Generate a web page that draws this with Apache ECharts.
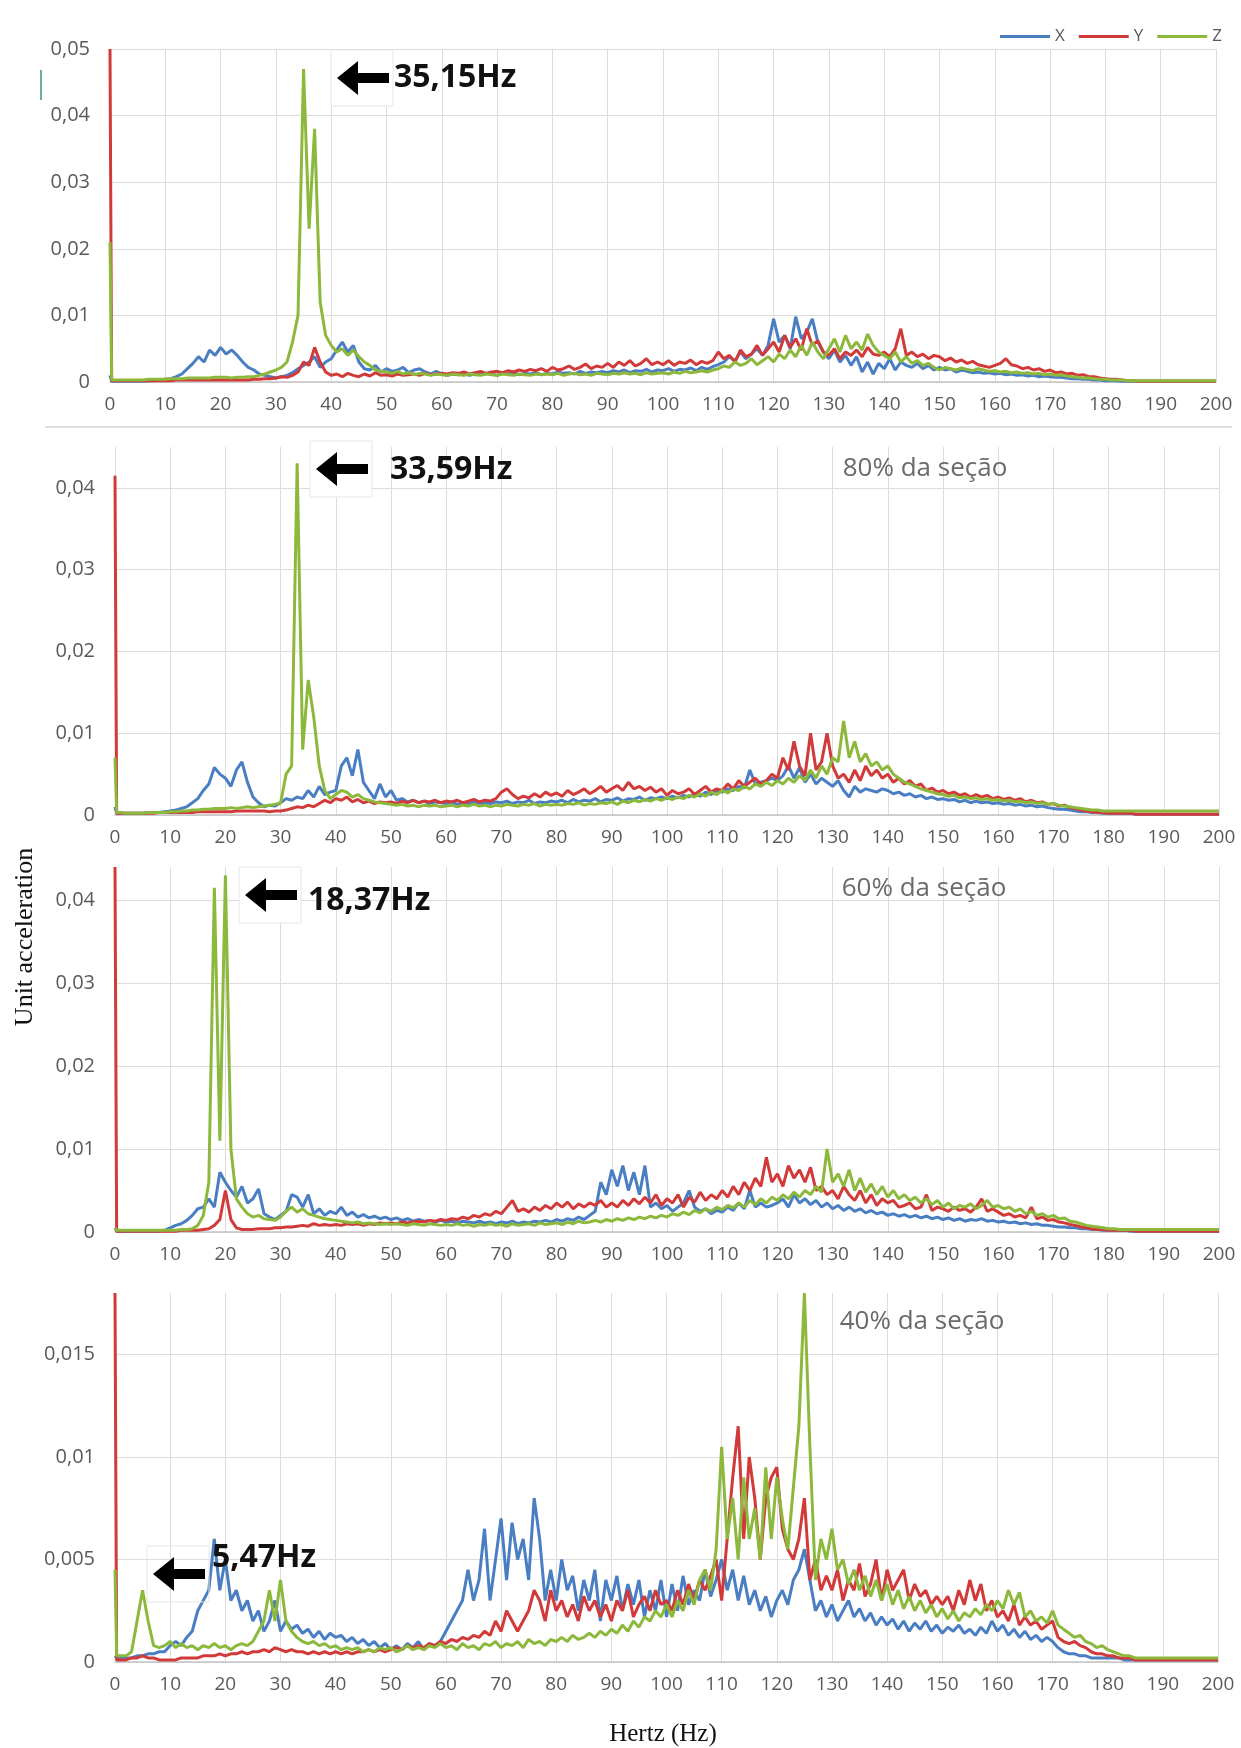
<!DOCTYPE html>
<html>
<head>
<meta charset="utf-8">
<script src="https://cdn.jsdelivr.net/npm/echarts@6/dist/echarts.min.js"></script>
<style>
html,body{margin:0;padding:0;background:#fff;}
#chart{width:1241px;height:1748px;}
</style>
</head>
<body>
<div id="chart"></div>
<script>
// Frequency axis (Hz)
const freq = [
0,0.3,1,2,3,4,5,6,7,8,9,
10,11,12,13,14,15,16,17,18,19,
20,21,22,23,24,25,26,27,28,29,
30,31,32,33,34,35,36,37,38,39,
40,41,42,43,44,45,46,47,48,49,
50,51,52,53,54,55,56,57,58,59,
60,61,62,63,64,65,66,67,68,69,
70,71,72,73,74,75,76,77,78,79,
80,81,82,83,84,85,86,87,88,89,
90,91,92,93,94,95,96,97,98,99,
100,101,102,103,104,105,106,107,108,109,
110,111,112,113,114,115,116,117,118,119,
120,121,122,123,124,125,126,127,128,129,
130,131,132,133,134,135,136,137,138,139,
140,141,142,143,144,145,146,147,148,149,
150,151,152,153,154,155,156,157,158,159,
160,161,162,163,164,165,166,167,168,169,
170,171,172,173,174,175,176,177,178,179,
180,181,182,183,184,185,186,187,188,189,
190,191,192,193,194,195,196,197,198,199,
200];

const seriesNames = ['X','Y','Z'];
const xTicks = [0,10,20,30,40,50,60,70,80,90,100,110,120,130,140,150,160,170,180,190,200];
const panelLabels = ['', '80% da seção', '60% da seção', '40% da seção'];
const peakLabels = ['35,15Hz', '33,59Hz', '18,37Hz', '5,47Hz'];

// ---------- Panel 1 ----------
const p1X = [
0.0010,0.0001,0.0001,0.0001,0.0001,0.0001,0.0001,0.0001,0.0002,0.0002,0.0003,
0.0004,0.0005,0.0008,0.0012,0.0020,0.0028,0.0038,0.0030,0.0048,0.0040,
0.0052,0.0042,0.0048,0.0040,0.0030,0.0022,0.0018,0.0012,0.0010,0.0008,
0.0006,0.0008,0.0010,0.0014,0.0020,0.0025,0.0030,0.0038,0.0022,0.0030,
0.0035,0.0048,0.0060,0.0045,0.0055,0.0030,0.0020,0.0018,0.0025,0.0015,
0.0020,0.0016,0.0018,0.0022,0.0014,0.0018,0.0020,0.0015,0.0012,0.0016,
0.0012,0.0010,0.0012,0.0011,0.0013,0.0010,0.0012,0.0011,0.0013,0.0012,
0.0010,0.0013,0.0012,0.0014,0.0011,0.0013,0.0012,0.0014,0.0011,0.0013,
0.0012,0.0015,0.0013,0.0014,0.0012,0.0016,0.0013,0.0015,0.0014,0.0016,
0.0014,0.0017,0.0015,0.0018,0.0014,0.0017,0.0016,0.0019,0.0015,0.0018,
0.0017,0.0020,0.0016,0.0019,0.0018,0.0021,0.0017,0.0022,0.0019,0.0023,
0.0026,0.0030,0.0038,0.0032,0.0045,0.0035,0.0042,0.0050,0.0040,0.0055,
0.0095,0.0060,0.0070,0.0050,0.0098,0.0065,0.0075,0.0095,0.0060,0.0045,
0.0035,0.0048,0.0030,0.0040,0.0025,0.0038,0.0015,0.0030,0.0012,0.0028,
0.0020,0.0035,0.0018,0.0030,0.0025,0.0022,0.0028,0.0020,0.0025,0.0018,
0.0022,0.0018,0.0020,0.0015,0.0018,0.0016,0.0014,0.0015,0.0013,0.0014,
0.0012,0.0013,0.0011,0.0012,0.0010,0.0011,0.0009,0.0010,0.0008,0.0009,
0.0008,0.0007,0.0007,0.0006,0.0005,0.0005,0.0004,0.0004,0.0003,0.0003,
0.0002,0.0002,0.0002,0.0001,0.0001,0.0001,0.0001,0.0001,0.0001,0.0001,
0.0001,0.0001,0.0001,0.0001,0.0001,0.0001,0.0001,0.0001,0.0001,0.0001,
0.0001];
const p1Y = [
0.0500,0.0002,0.0002,0.0002,0.0002,0.0002,0.0002,0.0002,0.0002,0.0002,0.0002,
0.0002,0.0002,0.0003,0.0003,0.0003,0.0003,0.0003,0.0003,0.0003,0.0003,
0.0003,0.0003,0.0003,0.0003,0.0003,0.0003,0.0004,0.0004,0.0005,0.0005,
0.0006,0.0008,0.0007,0.0010,0.0015,0.0030,0.0025,0.0052,0.0030,0.0015,
0.0010,0.0012,0.0008,0.0013,0.0010,0.0008,0.0012,0.0009,0.0014,0.0010,
0.0011,0.0009,0.0012,0.0010,0.0011,0.0012,0.0010,0.0013,0.0011,0.0012,
0.0013,0.0012,0.0014,0.0013,0.0015,0.0012,0.0014,0.0016,0.0013,0.0015,
0.0016,0.0014,0.0017,0.0015,0.0018,0.0016,0.0019,0.0017,0.0020,0.0016,
0.0022,0.0018,0.0020,0.0024,0.0019,0.0022,0.0027,0.0020,0.0024,0.0022,
0.0028,0.0022,0.0030,0.0025,0.0032,0.0024,0.0028,0.0035,0.0026,0.0030,
0.0026,0.0032,0.0025,0.0030,0.0028,0.0033,0.0026,0.0031,0.0028,0.0032,
0.0045,0.0035,0.0040,0.0030,0.0048,0.0038,0.0042,0.0055,0.0040,0.0050,
0.0060,0.0045,0.0070,0.0052,0.0065,0.0048,0.0080,0.0055,0.0062,0.0045,
0.0040,0.0050,0.0035,0.0045,0.0040,0.0048,0.0038,0.0052,0.0042,0.0040,
0.0045,0.0038,0.0050,0.0080,0.0040,0.0045,0.0038,0.0042,0.0035,0.0040,
0.0038,0.0032,0.0036,0.0030,0.0033,0.0028,0.0031,0.0026,0.0024,0.0022,
0.0025,0.0028,0.0035,0.0026,0.0024,0.0020,0.0022,0.0018,0.0020,0.0016,
0.0018,0.0014,0.0015,0.0012,0.0013,0.0010,0.0011,0.0008,0.0008,0.0006,
0.0005,0.0004,0.0004,0.0003,0.0002,0.0002,0.0001,0.0001,0.0001,0.0001,
0.0001,0.0001,0.0001,0.0001,0.0001,0.0001,0.0001,0.0001,0.0001,0.0001,
0.0001];
const p1Z = [
0.0210,0.0003,0.0003,0.0003,0.0003,0.0003,0.0003,0.0003,0.0004,0.0004,0.0004,
0.0004,0.0005,0.0005,0.0005,0.0006,0.0006,0.0006,0.0006,0.0006,0.0007,
0.0007,0.0007,0.0006,0.0007,0.0007,0.0008,0.0008,0.0010,0.0012,0.0015,
0.0018,0.0022,0.0030,0.0060,0.0100,0.0470,0.0230,0.0380,0.0120,0.0070,
0.0055,0.0045,0.0050,0.0040,0.0048,0.0038,0.0030,0.0025,0.0018,0.0016,
0.0015,0.0013,0.0016,0.0012,0.0014,0.0011,0.0013,0.0012,0.0010,0.0012,
0.0011,0.0010,0.0012,0.0011,0.0010,0.0012,0.0011,0.0010,0.0012,0.0011,
0.0010,0.0012,0.0011,0.0010,0.0012,0.0011,0.0010,0.0012,0.0011,0.0012,
0.0011,0.0013,0.0010,0.0012,0.0013,0.0011,0.0012,0.0010,0.0013,0.0012,
0.0011,0.0013,0.0012,0.0014,0.0012,0.0013,0.0011,0.0014,0.0012,0.0013,
0.0014,0.0012,0.0015,0.0013,0.0016,0.0014,0.0015,0.0017,0.0015,0.0018,
0.0020,0.0024,0.0022,0.0030,0.0025,0.0028,0.0035,0.0026,0.0032,0.0038,
0.0030,0.0042,0.0035,0.0048,0.0038,0.0055,0.0040,0.0060,0.0045,0.0035,
0.0050,0.0065,0.0045,0.0070,0.0050,0.0060,0.0048,0.0072,0.0055,0.0045,
0.0040,0.0035,0.0045,0.0030,0.0038,0.0028,0.0032,0.0025,0.0028,0.0022,
0.0018,0.0022,0.0020,0.0018,0.0021,0.0019,0.0017,0.0020,0.0018,0.0016,
0.0017,0.0015,0.0016,0.0014,0.0015,0.0013,0.0014,0.0012,0.0013,0.0011,
0.0012,0.0010,0.0011,0.0009,0.0008,0.0007,0.0006,0.0006,0.0005,0.0004,
0.0004,0.0003,0.0003,0.0003,0.0002,0.0002,0.0002,0.0002,0.0002,0.0002,
0.0002,0.0002,0.0002,0.0002,0.0002,0.0002,0.0002,0.0002,0.0002,0.0002,
0.0002];

// ---------- Panel 2 (80% da seção) ----------
const p2X = [
0.0010,0.0002,0.0002,0.0002,0.0002,0.0002,0.0002,0.0003,0.0003,0.0003,0.0004,
0.0005,0.0006,0.0008,0.0010,0.0015,0.0020,0.0030,0.0038,0.0058,0.0050,
0.0045,0.0035,0.0055,0.0065,0.0040,0.0022,0.0015,0.0010,0.0012,0.0011,
0.0015,0.0020,0.0018,0.0022,0.0020,0.0030,0.0022,0.0035,0.0025,0.0028,
0.0030,0.0060,0.0070,0.0048,0.0080,0.0040,0.0030,0.0020,0.0038,0.0022,
0.0030,0.0018,0.0020,0.0016,0.0018,0.0015,0.0017,0.0014,0.0016,0.0015,
0.0014,0.0016,0.0013,0.0015,0.0014,0.0016,0.0013,0.0015,0.0014,0.0016,
0.0015,0.0017,0.0014,0.0016,0.0015,0.0018,0.0014,0.0016,0.0015,0.0017,
0.0016,0.0018,0.0015,0.0019,0.0016,0.0018,0.0017,0.0020,0.0016,0.0019,
0.0018,0.0021,0.0017,0.0020,0.0019,0.0022,0.0018,0.0021,0.0020,0.0022,
0.0020,0.0023,0.0021,0.0024,0.0022,0.0026,0.0023,0.0028,0.0025,0.0030,
0.0028,0.0032,0.0030,0.0035,0.0033,0.0055,0.0038,0.0040,0.0042,0.0045,
0.0042,0.0048,0.0060,0.0045,0.0058,0.0040,0.0050,0.0038,0.0045,0.0040,
0.0035,0.0042,0.0030,0.0022,0.0035,0.0028,0.0032,0.0030,0.0028,0.0032,
0.0030,0.0026,0.0028,0.0024,0.0026,0.0022,0.0024,0.0020,0.0022,0.0019,
0.0020,0.0018,0.0019,0.0016,0.0018,0.0015,0.0017,0.0015,0.0016,0.0014,
0.0015,0.0013,0.0014,0.0012,0.0013,0.0011,0.0012,0.0010,0.0011,0.0009,
0.0008,0.0007,0.0007,0.0006,0.0005,0.0004,0.0004,0.0003,0.0003,0.0002,
0.0002,0.0002,0.0002,0.0002,0.0002,0.0001,0.0001,0.0001,0.0001,0.0001,
0.0001,0.0001,0.0001,0.0001,0.0001,0.0001,0.0001,0.0001,0.0001,0.0001,
0.0001];
const p2Y = [
0.0415,0.0002,0.0002,0.0002,0.0002,0.0002,0.0002,0.0002,0.0002,0.0003,0.0003,
0.0003,0.0003,0.0003,0.0003,0.0003,0.0004,0.0004,0.0004,0.0004,0.0004,
0.0004,0.0004,0.0005,0.0005,0.0005,0.0005,0.0005,0.0005,0.0004,0.0005,
0.0005,0.0006,0.0008,0.0010,0.0009,0.0012,0.0010,0.0014,0.0018,0.0015,
0.0020,0.0018,0.0022,0.0016,0.0019,0.0015,0.0017,0.0014,0.0016,0.0015,
0.0016,0.0014,0.0017,0.0015,0.0018,0.0015,0.0017,0.0016,0.0018,0.0015,
0.0017,0.0016,0.0018,0.0015,0.0017,0.0019,0.0016,0.0018,0.0017,0.0020,
0.0028,0.0032,0.0025,0.0020,0.0023,0.0021,0.0026,0.0022,0.0028,0.0024,
0.0027,0.0023,0.0030,0.0025,0.0028,0.0032,0.0026,0.0030,0.0035,0.0028,
0.0032,0.0036,0.0030,0.0040,0.0032,0.0035,0.0030,0.0034,0.0028,0.0032,
0.0024,0.0030,0.0026,0.0028,0.0032,0.0025,0.0030,0.0035,0.0028,0.0032,
0.0030,0.0038,0.0032,0.0042,0.0035,0.0040,0.0045,0.0038,0.0042,0.0050,
0.0045,0.0070,0.0055,0.0090,0.0060,0.0048,0.0100,0.0055,0.0065,0.0100,
0.0060,0.0045,0.0050,0.0040,0.0055,0.0042,0.0060,0.0048,0.0055,0.0045,
0.0050,0.0040,0.0045,0.0038,0.0042,0.0035,0.0038,0.0030,0.0033,0.0028,
0.0030,0.0026,0.0028,0.0024,0.0026,0.0022,0.0025,0.0022,0.0024,0.0020,
0.0022,0.0019,0.0021,0.0018,0.0020,0.0016,0.0018,0.0015,0.0016,0.0013,
0.0014,0.0011,0.0012,0.0009,0.0008,0.0006,0.0005,0.0004,0.0003,0.0003,
0.0002,0.0002,0.0002,0.0002,0.0002,0.0001,0.0001,0.0001,0.0001,0.0001,
0.0001,0.0001,0.0001,0.0001,0.0001,0.0001,0.0001,0.0001,0.0001,0.0001,
0.0001];
const p2Z = [
0.0070,0.0003,0.0003,0.0002,0.0002,0.0002,0.0002,0.0003,0.0003,0.0003,0.0003,
0.0004,0.0004,0.0005,0.0005,0.0006,0.0006,0.0007,0.0007,0.0008,0.0008,
0.0008,0.0009,0.0008,0.0009,0.0010,0.0009,0.0010,0.0011,0.0012,0.0013,
0.0015,0.0050,0.0060,0.0430,0.0080,0.0165,0.0120,0.0060,0.0030,0.0020,
0.0025,0.0030,0.0028,0.0022,0.0025,0.0020,0.0018,0.0016,0.0015,0.0014,
0.0013,0.0012,0.0013,0.0011,0.0012,0.0010,0.0012,0.0011,0.0012,0.0010,
0.0011,0.0012,0.0010,0.0012,0.0011,0.0013,0.0011,0.0012,0.0010,0.0012,
0.0011,0.0013,0.0012,0.0011,0.0013,0.0012,0.0014,0.0011,0.0013,0.0012,
0.0013,0.0012,0.0014,0.0013,0.0015,0.0012,0.0014,0.0013,0.0015,0.0014,
0.0016,0.0013,0.0017,0.0015,0.0018,0.0016,0.0019,0.0017,0.0020,0.0018,
0.0021,0.0019,0.0022,0.0020,0.0024,0.0022,0.0026,0.0023,0.0028,0.0025,
0.0030,0.0027,0.0032,0.0030,0.0035,0.0032,0.0038,0.0035,0.0040,0.0036,
0.0042,0.0038,0.0045,0.0040,0.0048,0.0042,0.0055,0.0045,0.0060,0.0050,
0.0070,0.0065,0.0115,0.0070,0.0090,0.0065,0.0075,0.0060,0.0065,0.0055,
0.0060,0.0050,0.0045,0.0040,0.0038,0.0035,0.0032,0.0030,0.0028,0.0026,
0.0025,0.0023,0.0024,0.0021,0.0022,0.0020,0.0021,0.0019,0.0020,0.0018,
0.0019,0.0017,0.0018,0.0016,0.0017,0.0015,0.0016,0.0014,0.0015,0.0013,
0.0014,0.0012,0.0011,0.0010,0.0009,0.0008,0.0007,0.0006,0.0006,0.0005,
0.0005,0.0005,0.0005,0.0005,0.0005,0.0005,0.0005,0.0005,0.0005,0.0005,
0.0005,0.0005,0.0005,0.0005,0.0005,0.0005,0.0005,0.0005,0.0005,0.0005,
0.0005];

// ---------- Panel 3 (60% da seção) ----------
const p3X = [
0.0005,0.0001,0.0001,0.0001,0.0001,0.0001,0.0001,0.0001,0.0001,0.0001,0.0002,
0.0005,0.0008,0.0010,0.0014,0.0020,0.0028,0.0030,0.0040,0.0030,0.0072,
0.0060,0.0050,0.0042,0.0055,0.0035,0.0040,0.0052,0.0022,0.0018,0.0015,
0.0020,0.0025,0.0045,0.0042,0.0030,0.0045,0.0022,0.0028,0.0020,0.0025,
0.0022,0.0030,0.0020,0.0024,0.0018,0.0021,0.0017,0.0019,0.0016,0.0018,
0.0015,0.0017,0.0014,0.0016,0.0013,0.0015,0.0013,0.0014,0.0012,0.0014,
0.0012,0.0013,0.0011,0.0013,0.0012,0.0011,0.0013,0.0011,0.0012,0.0010,
0.0012,0.0011,0.0013,0.0010,0.0012,0.0011,0.0013,0.0012,0.0014,0.0012,
0.0015,0.0013,0.0016,0.0014,0.0018,0.0015,0.0020,0.0025,0.0060,0.0045,
0.0075,0.0055,0.0080,0.0050,0.0072,0.0045,0.0080,0.0030,0.0035,0.0028,
0.0032,0.0025,0.0030,0.0035,0.0050,0.0030,0.0025,0.0028,0.0022,0.0026,
0.0024,0.0030,0.0026,0.0035,0.0028,0.0050,0.0030,0.0035,0.0030,0.0032,
0.0035,0.0040,0.0030,0.0045,0.0035,0.0040,0.0033,0.0038,0.0030,0.0035,
0.0028,0.0032,0.0026,0.0030,0.0025,0.0028,0.0023,0.0026,0.0022,0.0024,
0.0020,0.0022,0.0019,0.0021,0.0018,0.0020,0.0017,0.0019,0.0016,0.0018,
0.0015,0.0017,0.0014,0.0016,0.0013,0.0015,0.0014,0.0016,0.0013,0.0014,
0.0012,0.0013,0.0011,0.0012,0.0010,0.0011,0.0009,0.0010,0.0008,0.0008,
0.0007,0.0006,0.0006,0.0005,0.0005,0.0004,0.0004,0.0003,0.0003,0.0002,
0.0002,0.0002,0.0002,0.0002,0.0001,0.0001,0.0001,0.0001,0.0001,0.0001,
0.0001,0.0001,0.0001,0.0001,0.0001,0.0001,0.0001,0.0001,0.0001,0.0001,
0.0001];
const p3Y = [
0.0440,0.0001,0.0001,0.0001,0.0001,0.0001,0.0001,0.0001,0.0001,0.0001,0.0001,
0.0001,0.0001,0.0002,0.0002,0.0002,0.0002,0.0003,0.0004,0.0008,0.0015,
0.0050,0.0015,0.0005,0.0003,0.0003,0.0003,0.0004,0.0004,0.0004,0.0005,
0.0005,0.0006,0.0006,0.0007,0.0008,0.0007,0.0010,0.0008,0.0009,0.0008,
0.0009,0.0008,0.0010,0.0009,0.0010,0.0008,0.0010,0.0009,0.0011,0.0010,
0.0011,0.0010,0.0012,0.0011,0.0012,0.0013,0.0012,0.0014,0.0013,0.0015,
0.0014,0.0016,0.0015,0.0018,0.0016,0.0020,0.0018,0.0022,0.0020,0.0025,
0.0022,0.0030,0.0038,0.0025,0.0028,0.0024,0.0030,0.0026,0.0032,0.0028,
0.0035,0.0030,0.0036,0.0028,0.0034,0.0030,0.0035,0.0032,0.0038,0.0030,
0.0035,0.0030,0.0038,0.0032,0.0040,0.0034,0.0042,0.0035,0.0045,0.0032,
0.0040,0.0035,0.0045,0.0030,0.0042,0.0036,0.0048,0.0038,0.0045,0.0040,
0.0050,0.0042,0.0055,0.0045,0.0060,0.0050,0.0065,0.0055,0.0090,0.0060,
0.0070,0.0055,0.0080,0.0065,0.0075,0.0060,0.0078,0.0050,0.0055,0.0045,
0.0050,0.0040,0.0055,0.0045,0.0038,0.0050,0.0035,0.0045,0.0032,0.0040,
0.0035,0.0038,0.0030,0.0032,0.0035,0.0028,0.0030,0.0045,0.0026,0.0030,
0.0028,0.0025,0.0030,0.0026,0.0028,0.0024,0.0030,0.0040,0.0025,0.0028,
0.0024,0.0020,0.0022,0.0018,0.0020,0.0017,0.0030,0.0016,0.0018,0.0014,
0.0015,0.0012,0.0011,0.0009,0.0008,0.0006,0.0005,0.0004,0.0003,0.0003,
0.0002,0.0002,0.0002,0.0002,0.0002,0.0001,0.0001,0.0001,0.0001,0.0001,
0.0001,0.0001,0.0001,0.0001,0.0001,0.0001,0.0001,0.0001,0.0001,0.0001,
0.0001];
const p3Z = [
0.0005,0.0002,0.0002,0.0002,0.0002,0.0002,0.0002,0.0002,0.0002,0.0002,0.0002,
0.0002,0.0002,0.0003,0.0003,0.0004,0.0008,0.0020,0.0060,0.0415,0.0110,
0.0430,0.0100,0.0040,0.0030,0.0022,0.0018,0.0020,0.0016,0.0015,0.0014,
0.0018,0.0025,0.0030,0.0024,0.0028,0.0022,0.0020,0.0018,0.0016,0.0015,
0.0014,0.0013,0.0012,0.0011,0.0012,0.0010,0.0011,0.0010,0.0009,0.0010,
0.0009,0.0010,0.0009,0.0008,0.0010,0.0009,0.0008,0.0010,0.0009,0.0008,
0.0009,0.0008,0.0010,0.0008,0.0009,0.0007,0.0009,0.0008,0.0010,0.0008,
0.0009,0.0007,0.0010,0.0008,0.0009,0.0010,0.0008,0.0011,0.0009,0.0010,
0.0011,0.0009,0.0012,0.0010,0.0013,0.0011,0.0012,0.0014,0.0012,0.0015,
0.0013,0.0016,0.0014,0.0017,0.0015,0.0018,0.0016,0.0019,0.0017,0.0020,
0.0018,0.0022,0.0020,0.0024,0.0021,0.0026,0.0023,0.0028,0.0025,0.0030,
0.0027,0.0032,0.0029,0.0035,0.0030,0.0038,0.0033,0.0040,0.0035,0.0042,
0.0038,0.0045,0.0040,0.0048,0.0042,0.0050,0.0045,0.0055,0.0048,0.0100,
0.0060,0.0070,0.0055,0.0075,0.0050,0.0065,0.0048,0.0058,0.0045,0.0055,
0.0042,0.0050,0.0040,0.0045,0.0038,0.0042,0.0035,0.0040,0.0033,0.0038,
0.0030,0.0035,0.0028,0.0032,0.0030,0.0034,0.0028,0.0032,0.0038,0.0030,
0.0032,0.0028,0.0030,0.0025,0.0028,0.0022,0.0025,0.0020,0.0022,0.0018,
0.0020,0.0016,0.0017,0.0013,0.0012,0.0010,0.0008,0.0007,0.0006,0.0005,
0.0004,0.0004,0.0003,0.0003,0.0003,0.0003,0.0003,0.0003,0.0003,0.0003,
0.0003,0.0003,0.0003,0.0003,0.0003,0.0003,0.0003,0.0003,0.0003,0.0003,
0.0003];

// ---------- Panel 4 (40% da seção) ----------
const p4X = [
0.0003,0.0002,0.0002,0.0002,0.0002,0.0003,0.0003,0.0004,0.0004,0.0005,0.0005,
0.0008,0.0010,0.0008,0.0012,0.0015,0.0025,0.0030,0.0035,0.0060,0.0035,
0.0050,0.0030,0.0035,0.0025,0.0030,0.0020,0.0025,0.0015,0.0020,0.0030,
0.0015,0.0020,0.0016,0.0018,0.0014,0.0016,0.0012,0.0015,0.0011,0.0014,
0.0012,0.0013,0.0010,0.0012,0.0009,0.0011,0.0008,0.0010,0.0007,0.0009,
0.0006,0.0008,0.0006,0.0009,0.0007,0.0010,0.0006,0.0009,0.0008,0.0010,
0.0015,0.0020,0.0025,0.0030,0.0045,0.0030,0.0040,0.0065,0.0030,0.0050,
0.0070,0.0040,0.0068,0.0050,0.0060,0.0040,0.0080,0.0060,0.0030,0.0045,
0.0030,0.0050,0.0035,0.0042,0.0025,0.0040,0.0030,0.0045,0.0020,0.0040,
0.0030,0.0042,0.0025,0.0038,0.0028,0.0040,0.0022,0.0035,0.0025,0.0040,
0.0022,0.0038,0.0025,0.0042,0.0028,0.0035,0.0030,0.0045,0.0032,0.0040,
0.0050,0.0035,0.0045,0.0030,0.0042,0.0028,0.0035,0.0025,0.0032,0.0022,
0.0030,0.0035,0.0028,0.0040,0.0045,0.0055,0.0040,0.0025,0.0030,0.0022,
0.0028,0.0020,0.0025,0.0030,0.0022,0.0026,0.0020,0.0024,0.0018,0.0022,
0.0018,0.0021,0.0016,0.0020,0.0015,0.0019,0.0016,0.0020,0.0015,0.0018,
0.0014,0.0017,0.0015,0.0018,0.0014,0.0016,0.0013,0.0017,0.0014,0.0020,
0.0015,0.0018,0.0013,0.0016,0.0012,0.0015,0.0011,0.0013,0.0010,0.0012,
0.0010,0.0007,0.0005,0.0004,0.0004,0.0003,0.0003,0.0002,0.0002,0.0002,
0.0002,0.0002,0.0002,0.0001,0.0001,0.0001,0.0001,0.0001,0.0001,0.0001,
0.0001,0.0001,0.0001,0.0001,0.0001,0.0001,0.0001,0.0001,0.0001,0.0001,
0.0001];
const p4Y = [
0.0180,0.0001,0.0001,0.0001,0.0002,0.0002,0.0003,0.0002,0.0002,0.0001,0.0001,
0.0001,0.0001,0.0002,0.0002,0.0002,0.0002,0.0003,0.0003,0.0003,0.0004,
0.0003,0.0004,0.0004,0.0005,0.0004,0.0005,0.0005,0.0006,0.0005,0.0007,
0.0006,0.0005,0.0006,0.0005,0.0005,0.0004,0.0005,0.0004,0.0005,0.0004,
0.0005,0.0004,0.0005,0.0004,0.0005,0.0005,0.0006,0.0005,0.0006,0.0005,
0.0006,0.0007,0.0006,0.0008,0.0007,0.0008,0.0007,0.0009,0.0008,0.0010,
0.0009,0.0011,0.0010,0.0012,0.0011,0.0013,0.0012,0.0015,0.0013,0.0020,
0.0015,0.0025,0.0020,0.0015,0.0020,0.0025,0.0035,0.0030,0.0020,0.0035,
0.0025,0.0030,0.0022,0.0028,0.0020,0.0032,0.0025,0.0030,0.0022,0.0028,
0.0020,0.0030,0.0025,0.0035,0.0022,0.0028,0.0032,0.0025,0.0035,0.0028,
0.0030,0.0025,0.0035,0.0028,0.0038,0.0030,0.0040,0.0035,0.0042,0.0050,
0.0030,0.0060,0.0090,0.0115,0.0060,0.0100,0.0080,0.0050,0.0080,0.0090,
0.0095,0.0065,0.0055,0.0050,0.0060,0.0080,0.0040,0.0050,0.0035,0.0042,
0.0035,0.0045,0.0030,0.0040,0.0035,0.0048,0.0032,0.0038,0.0050,0.0030,
0.0045,0.0035,0.0040,0.0045,0.0030,0.0038,0.0032,0.0035,0.0028,0.0032,
0.0028,0.0032,0.0025,0.0035,0.0028,0.0040,0.0030,0.0038,0.0025,0.0030,
0.0022,0.0025,0.0020,0.0028,0.0018,0.0022,0.0018,0.0020,0.0016,0.0018,
0.0020,0.0012,0.0010,0.0009,0.0010,0.0008,0.0007,0.0005,0.0004,0.0004,
0.0003,0.0003,0.0002,0.0002,0.0002,0.0001,0.0001,0.0001,0.0001,0.0001,
0.0001,0.0001,0.0001,0.0001,0.0001,0.0001,0.0001,0.0001,0.0001,0.0001,
0.0001];
const p4Z = [
0.0045,0.0003,0.0003,0.0003,0.0005,0.0020,0.0035,0.0020,0.0008,0.0007,0.0008,
0.0010,0.0007,0.0009,0.0007,0.0008,0.0006,0.0008,0.0007,0.0009,0.0007,
0.0008,0.0006,0.0008,0.0009,0.0008,0.0010,0.0015,0.0020,0.0035,0.0020,
0.0040,0.0020,0.0015,0.0012,0.0010,0.0009,0.0010,0.0008,0.0009,0.0007,
0.0008,0.0006,0.0007,0.0006,0.0007,0.0005,0.0006,0.0005,0.0007,0.0006,
0.0007,0.0005,0.0006,0.0008,0.0006,0.0007,0.0006,0.0008,0.0007,0.0009,
0.0007,0.0008,0.0006,0.0009,0.0007,0.0008,0.0006,0.0009,0.0008,0.0010,
0.0007,0.0009,0.0008,0.0010,0.0007,0.0011,0.0009,0.0010,0.0008,0.0011,
0.0010,0.0012,0.0010,0.0013,0.0011,0.0012,0.0014,0.0012,0.0015,0.0013,
0.0016,0.0014,0.0018,0.0015,0.0020,0.0017,0.0022,0.0020,0.0025,0.0022,
0.0028,0.0022,0.0030,0.0025,0.0035,0.0028,0.0040,0.0045,0.0035,0.0055,
0.0105,0.0060,0.0080,0.0050,0.0090,0.0060,0.0075,0.0050,0.0095,0.0060,
0.0090,0.0070,0.0055,0.0085,0.0115,0.0180,0.0105,0.0040,0.0060,0.0050,
0.0065,0.0045,0.0050,0.0038,0.0045,0.0035,0.0042,0.0032,0.0040,0.0030,
0.0038,0.0028,0.0035,0.0026,0.0032,0.0025,0.0030,0.0024,0.0028,0.0022,
0.0026,0.0021,0.0025,0.0020,0.0024,0.0022,0.0026,0.0023,0.0028,0.0025,
0.0030,0.0026,0.0035,0.0028,0.0034,0.0022,0.0025,0.0020,0.0022,0.0019,
0.0025,0.0018,0.0016,0.0014,0.0012,0.0013,0.0010,0.0009,0.0007,0.0008,
0.0006,0.0005,0.0004,0.0003,0.0003,0.0002,0.0002,0.0002,0.0002,0.0002,
0.0002,0.0002,0.0002,0.0002,0.0002,0.0002,0.0002,0.0002,0.0002,0.0002,
0.0002];

// Y axis ranges per panel
const yMax = [0.05, 0.045, 0.044, 0.018];
const yStep = [0.01, 0.01, 0.01, 0.005];

const panels = [[p1X,p1Y,p1Z],[p2X,p2Y,p2Z],[p3X,p3Y,p3Z],[p4X,p4Y,p4Z]];
const colors = ['#4a7ec2', '#d23a3a', '#8cb83c'];

// Layout (pixels)
const grids = [
  {left:110, top:49,   width:1106, height:333},
  {left:115, top:447,  width:1104, height:368},
  {left:115, top:867,  width:1104, height:365},
  {left:115, top:1293, width:1103, height:369}
];

const fmtY = v => v === 0 ? '0' : String(parseFloat(v.toFixed(4))).replace('.', ',');

const xAxes = grids.map((g, i) => ({
  type:'value', gridIndex:i, min:0, max:200, interval:10,
  axisLine:{show:true, lineStyle:{color:'#c4c4c4', width:1.5}},
  axisTick:{show:false},
  axisLabel:{color:'#5a5a5a', fontSize:19, margin:13, fontFamily:'Open Sans'},
  splitLine:{show:true, lineStyle:{color:'#dcdcdc', width:1}}
}));
const yAxes = grids.map((g, i) => ({
  type:'value', gridIndex:i, min:0, max:yMax[i], interval:yStep[i],
  axisLine:{show:false}, axisTick:{show:false},
  axisLabel:{color:'#5a5a5a', fontSize:20, margin:20, fontFamily:'Open Sans',
    showMaxLabel: i === 0, formatter: fmtY},
  splitLine:{show:true, showMaxLine: i === 0, lineStyle:{color:'#dcdcdc', width:1}}
}));

const series = [];
panels.forEach((p, i) => {
  p.forEach((arr, k) => {
    series.push({
      name: seriesNames[k], type:'line', xAxisIndex:i, yAxisIndex:i,
      data: freq.map((f, j) => [f, arr[j]]),
      showSymbol:false, symbol:'none', sampling:null,
      lineStyle:{color:colors[k], width:3},
      itemStyle:{color:colors[k]},
      emphasis:{disabled:true}
    });
  });
});

// Annotation graphics
function arrow(x, y) {
  return {type:'polygon', z:120, shape:{points:[[x,y],[x+21,y-17],[x+21,y-5],[x+52,y-5],[x+52,y+5],[x+21,y+5],[x+21,y+17]]},
          style:{fill:'#000'}};
}
function box(x, y, filled) {
  return {type:'rect', z:110, shape:{x:x-6, y:y-28, width:62, height:56},
          style:{fill: filled ? '#fff' : 'none', stroke:'#e6e6e6', lineWidth:1}};
}
function peakText(x, y, t) {
  return {type:'text', z:120, style:{x:x, y:y, text:t, fill:'#111', font:'bold 32px "Open Sans"', textVerticalAlign:'middle'}};
}
function secText(cx, cy, t) {
  return {type:'text', z:120, style:{x:cx, y:cy, text:t, fill:'#6a6a6a', font:'26px "Open Sans"', textAlign:'center', textVerticalAlign:'middle'}};
}
const arrowPos = [[337,78],[316,469],[245,895],[153,1574]];
const textPos = [[394,78],[390,470],[308,901],[212,1558]];
const secPos = [null,[925,469],[924,889],[922,1322]];

const graphic = [];
arrowPos.forEach((a, i) => {
  graphic.push(box(a[0], a[1], i < 3));
  graphic.push(arrow(a[0], a[1]));
  graphic.push(peakText(textPos[i][0], textPos[i][1], peakLabels[i]));
  if (secPos[i]) graphic.push(secText(secPos[i][0], secPos[i][1], panelLabels[i]));
});
graphic.push({type:'line', z:100, shape:{x1:45, y1:427, x2:1232, y2:427}, style:{stroke:'#d4d4d4', lineWidth:1.5}});
graphic.push({type:'line', z:100, shape:{x1:41, y1:70, x2:41, y2:100}, style:{stroke:'#3f8f80', lineWidth:1.5}});
graphic.push({type:'text', z:120, rotation:Math.PI/2, x:25, y:937,
  style:{text:'Unit acceleration', fill:'#111', font:'26px "Liberation Serif"', textAlign:'center', textVerticalAlign:'middle'}});
graphic.push({type:'text', z:120, style:{x:663, y:1734, text:'Hertz (Hz)', fill:'#111', font:'25px "Liberation Serif"', textAlign:'center', textVerticalAlign:'middle'}});

const chart = echarts.init(document.getElementById('chart'), null, {renderer:'canvas'});
chart.setOption({
  animation:false,
  backgroundColor:'#fff',
  textStyle:{fontFamily:'Open Sans'},
  legend:{
    data:seriesNames, right:14, top:23, icon:'rect', itemWidth:50, itemHeight:3, itemGap:14,
    textStyle:{color:'#595959', fontSize:17, fontFamily:'Open Sans'}, selectedMode:false
  },
  grid:grids,
  xAxis:xAxes,
  yAxis:yAxes,
  series:series,
  graphic:graphic
});
</script>
</body>
</html>
